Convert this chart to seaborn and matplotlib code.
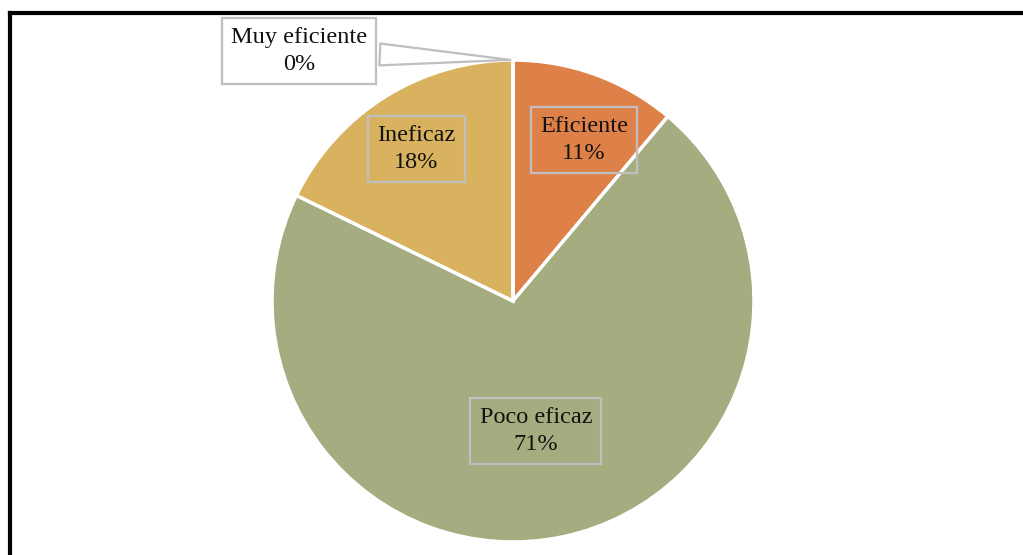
import matplotlib
matplotlib.use("Agg")
import matplotlib.pyplot as plt
import seaborn as sns
from matplotlib.lines import Line2D

categories = ["Eficiente", "Poco eficaz", "Ineficaz", "Muy eficiente"]
values = [5, 32, 8, 0]
pct_labels = ["11%", "71%", "18%", "0%"]
colors = ["#DE8148", "#A5AC80", "#D9B25F", "#8A8A8A"]

sns.set_theme(style="white")
plt.rcParams["font.family"] = ["Liberation Serif", "DejaVu Serif"]

W, H = 1023, 555
fig = plt.figure(figsize=(W / 100, H / 100), dpi=100)
fig.patch.set_facecolor("white")

cx, cy, r = 513, 301, 241
ax = fig.add_axes([(cx - r) / W, (H - cy - r) / H, 2 * r / W, 2 * r / H])
wedges, _ = ax.pie(values, colors=colors, startangle=90, counterclock=False,
                   radius=1.0,
                   wedgeprops=dict(edgecolor="white", linewidth=2.5))
ax.set_xlim(-1, 1)
ax.set_ylim(-1, 1)
ax.set_aspect("equal")
ax.axis("off")

FS = 17.5
LS = 1.35
box = dict(boxstyle="square,pad=0.38", fc="none", ec="#BFBFBF", lw=1.6)
pos = {"Eficiente": (0.295, 0.668), "Poco eficaz": (0.095, -0.539),
       "Ineficaz": (-0.402, 0.631)}
for cat, p in zip(categories, pct_labels):
    if cat in pos:
        x, y = pos[cat]
        ax.text(x, y, f"{cat}\n{p}", ha="center", va="center", fontsize=FS,
                color="#111111", linespacing=LS, bbox=box)

# Zero-value slice callout
ax.annotate(f"{categories[3]}\n{pct_labels[3]}", xy=(0, 1.0), xytext=(-0.888, 1.037),
            ha="center", va="center", fontsize=FS, color="#111111", linespacing=LS,
            annotation_clip=False,
            bbox=dict(boxstyle="square,pad=0.38", fc="white", ec="#BFBFBF", lw=1.6),
            arrowprops=dict(arrowstyle="wedge,tail_width=0.9,shrink_factor=0.5",
                            fc="white", ec="#BFBFBF", lw=1.6))

# Frame (top and left edges visible)
fig.add_artist(Line2D([10 / W, 1.0], [1 - 12.5 / H, 1 - 12.5 / H],
                      transform=fig.transFigure, color="black", lw=3,
                      solid_capstyle="projecting"))
fig.add_artist(Line2D([10 / W, 10 / W], [0, 1 - 12.5 / H],
                      transform=fig.transFigure, color="black", lw=3,
                      solid_capstyle="projecting"))

fig.savefig("out.png", dpi=100, facecolor="white")
